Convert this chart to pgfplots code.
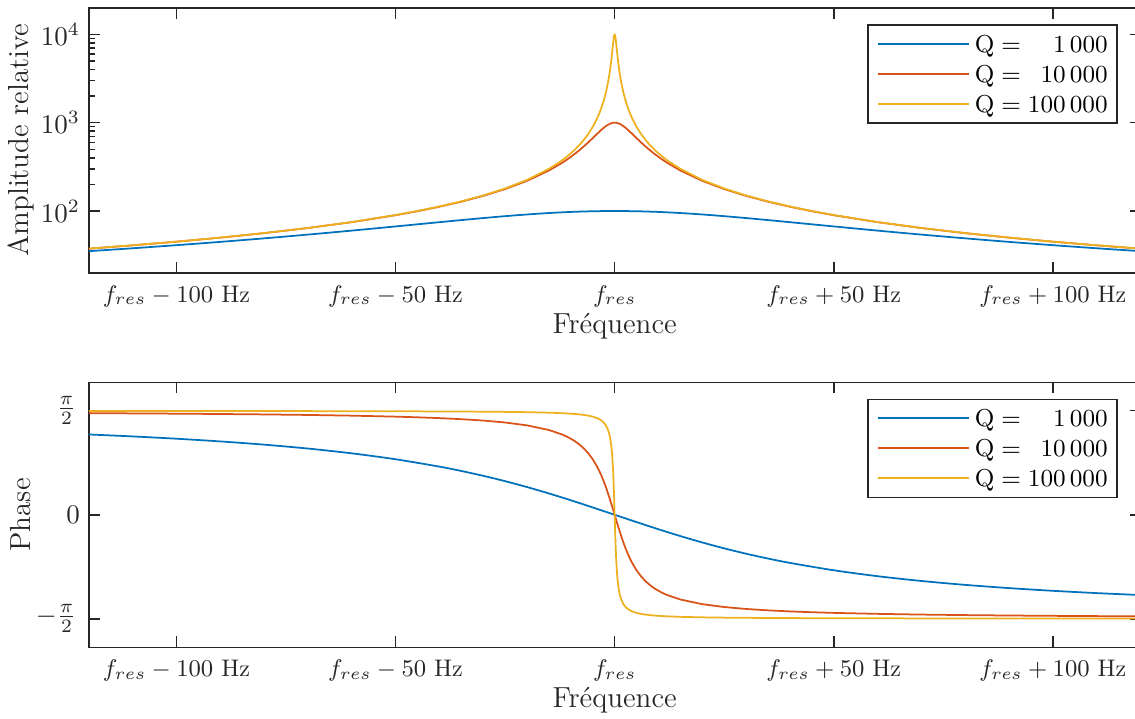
\RequirePackage{fix-cm}
\documentclass[border=0pt]{standalone}
\usepackage{pgfplots}
\usepackage{pgfplotstable}
\pgfplotsset{compat=1.18}
\definecolor{c1}{rgb}{0,0.447,0.741}
\definecolor{c2}{rgb}{0.85,0.325,0.098}
\definecolor{c3}{rgb}{0.929,0.694,0.125}
\definecolor{axgray}{rgb}{0.15,0.15,0.15}

\pgfplotstableread{
x amp ph
-120 35.11 1.2120
-110 37.86 1.1825
-100 41.04 1.1479
-90 44.72 1.1071
-80 49.03 1.0584
-70 54.08 0.9994
-60 60.00 0.9273
-50 66.90 0.8380
-40 74.74 0.7266
-35 78.94 0.6610
-30 83.21 0.5880
-25 87.42 0.5071
-20 91.38 0.4182
-15 94.87 0.3218
-10 97.62 0.2187
-5 99.39 0.1107
0 100.00 0.0000
5 99.39 -0.1107
10 97.62 -0.2187
15 94.87 -0.3218
20 91.38 -0.4182
25 87.42 -0.5071
30 83.21 -0.5880
35 78.94 -0.6610
40 74.74 -0.7266
50 66.90 -0.8380
60 60.00 -0.9273
70 54.08 -0.9994
80 49.03 -1.0584
90 44.72 -1.1071
100 41.04 -1.1479
110 37.86 -1.1825
120 35.11 -1.2120
}\qA

\pgfplotstableread{
x amp ph
-120 37.47 1.5333
-110 40.87 1.5299
-100 44.95 1.5258
-90 49.94 1.5208
-80 56.16 1.5146
-70 64.15 1.5066
-60 74.79 1.4959
-50 89.64 1.4810
-45 99.50 1.4711
-40 111.8 1.4588
-35 127.5 1.4429
-30 148.3 1.4219
-25 177.2 1.3927
-20 219.5 1.3495
-15 287.3 1.2793
-12 351.1 1.2120
-11 378.6 1.1825
-10 410.4 1.1479
-9 447.2 1.1071
-8 490.3 1.0584
-7 540.8 0.9994
-6 600.0 0.9273
-5 669.0 0.8380
-4 747.4 0.7266
-3.5 789.4 0.6610
-3 832.1 0.5880
-2.5 874.2 0.5071
-2 913.8 0.4182
-1.5 948.7 0.3218
-1 976.2 0.2187
-0.5 993.9 0.1107
0 1000 0
0.5 993.9 -0.1107
1 976.2 -0.2187
1.5 948.7 -0.3218
2 913.8 -0.4182
2.5 874.2 -0.5071
3 832.1 -0.5880
3.5 789.4 -0.6610
4 747.4 -0.7266
5 669.0 -0.8380
6 600.0 -0.9273
7 540.8 -0.9994
8 490.3 -1.0584
9 447.2 -1.1071
10 410.4 -1.1479
11 378.6 -1.1825
12 351.1 -1.2120
15 287.3 -1.2793
20 219.5 -1.3495
25 177.2 -1.3927
30 148.3 -1.4219
35 127.5 -1.4429
40 111.8 -1.4588
45 99.50 -1.4711
50 89.64 -1.4810
60 74.79 -1.4959
70 64.15 -1.5066
80 56.16 -1.5146
90 49.94 -1.5208
100 44.95 -1.5258
110 40.87 -1.5299
120 37.47 -1.5333
}\qB

\pgfplotstableread{
x amp ph
-120 37.50 1.5671
-110 40.91 1.5667
-100 45.00 1.5663
-90 50.00 1.5658
-80 56.25 1.5652
-70 64.29 1.5644
-60 75.00 1.5633
-50 90.00 1.5618
-45 100.0 1.5608
-40 112.5 1.5596
-35 128.6 1.5579
-30 150.0 1.5558
-25 180.0 1.5528
-20 224.9 1.5483
-15 299.9 1.5408
-12 374.7 1.5333
-11 408.7 1.5299
-10 449.5 1.5258
-9 499.4 1.5208
-8 561.6 1.5146
-7 641.5 1.5066
-6 747.9 1.4959
-5 896.4 1.4810
-4 1118 1.4588
-3.5 1275 1.4429
-3 1483 1.4219
-2.5 1772 1.3927
-2 2195 1.3495
-1.5 2873 1.2793
-1.2 3511 1.2120
-1.1 3786 1.1825
-1.0 4104 1.1479
-0.9 4472 1.1071
-0.8 4903 1.0584
-0.7 5408 0.9994
-0.6 6000 0.9273
-0.5 6690 0.8380
-0.4 7474 0.7266
-0.35 7894 0.6610
-0.3 8321 0.5880
-0.25 8742 0.5071
-0.2 9138 0.4182
-0.15 9487 0.3218
-0.1 9762 0.2187
-0.05 9939 0.1107
0 10000 0
0.05 9939 -0.1107
0.1 9762 -0.2187
0.15 9487 -0.3218
0.2 9138 -0.4182
0.25 8742 -0.5071
0.3 8321 -0.5880
0.35 7894 -0.6610
0.4 7474 -0.7266
0.5 6690 -0.8380
0.6 6000 -0.9273
0.7 5408 -0.9994
0.8 4903 -1.0584
0.9 4472 -1.1071
1.0 4104 -1.1479
1.1 3786 -1.1825
1.2 3511 -1.2120
1.5 2873 -1.2793
2 2195 -1.3495
2.5 1772 -1.3927
3 1483 -1.4219
3.5 1275 -1.4429
4 1118 -1.4588
5 896.4 -1.4810
6 747.9 -1.4959
7 641.5 -1.5066
8 561.6 -1.5146
9 499.4 -1.5208
10 449.5 -1.5258
11 408.7 -1.5299
12 374.7 -1.5333
15 299.9 -1.5408
20 224.9 -1.5483
25 180.0 -1.5528
30 150.0 -1.5558
35 128.6 -1.5579
40 112.5 -1.5596
45 100.0 -1.5608
50 90.00 -1.5618
60 75.00 -1.5633
70 64.29 -1.5644
80 56.25 -1.5652
90 50.00 -1.5658
100 45.00 -1.5663
110 40.91 -1.5667
120 37.50 -1.5671
}\qC

\pgfplotsset{
  myax/.style={
    scale only axis, width=420.7pt, height=106pt,
    xmin=-120, xmax=120,
    xtick={-100,-50,0,50,100},
    xticklabels={{$f_{res}-100$ Hz},{$f_{res}-50$ Hz},{$f_{res}$},{$f_{res}+50$ Hz},{$f_{res}+100$ Hz}},
    axis line style={draw=axgray, line width=0.6pt},
    every tick/.style={draw=axgray, line width=0.6pt},
    major tick length=4.4pt, minor tick length=2.4pt,
    tick align=inside,
    tick label style={font=\fontsize{9.6}{11}\selectfont, text=axgray},
    yticklabel style={font=\fontsize{10.8}{12}\selectfont},
    xticklabel style={anchor=base, yshift=-11.8pt},
    xlabel={Fréquence},
    xlabel style={at={(axis description cs:0.5,0)}, anchor=base, yshift=-24.2pt, font=\fontsize{11.6}{13}\selectfont, text=axgray},
    ylabel style={at={(axis description cs:-0.0645,0.5)}, anchor=center, rotate=0, font=\fontsize{11.6}{13}\selectfont, text=axgray},
    legend cell align=left,
    legend image code/.code={\draw[#1] (0pt,0pt) -- (36.3pt,0pt);},
    legend style={at={(1,1)}, anchor=north east, xshift=-9.1pt, yshift=-6.5pt,
      draw=axgray, line width=0.6pt, fill=white,
      font=\fontsize{9.8}{11}\selectfont,
      inner xsep=3.7pt, inner ysep=1.6pt, column sep=2.1pt, row sep=0pt,
      nodes={inner sep=0pt, text height=9.4pt, text depth=2.6pt}},
    every axis plot/.append style={line width=0.7pt, line join=round},
  }
}

\begin{document}
\begin{tikzpicture}
\begin{axis}[myax, at={(35.5pt,178.1pt)}, anchor=south west,
  ymode=log, ymin=20, ymax=20000, ytick={100,1000,10000},
  ylabel={Amplitude relative}]
\addplot[c1, smooth] table[x=x, y=amp] {\qA};
\addplot[c2] table[x=x, y=amp] {\qB};
\addplot[c3] table[x=x, y=amp] {\qC};
\legend{{$\mathrm{Q} = \phantom{00}1\,000$},{$\mathrm{Q} = \phantom{0}10\,000$},{$\mathrm{Q} = 100\,000$}}
\end{axis}
\begin{axis}[myax, at={(35.5pt,28.3pt)}, anchor=south west,
  ymin=-2, ymax=2, ytick={-1.5708,0,1.5708},
  yticklabels={{$-\frac{\pi}{2}$\kern1.5pt},{$0$},{$\frac{\pi}{2}$\kern1.5pt}},
  ylabel={Phase}]
\addplot[c1, smooth] table[x=x, y=ph] {\qA};
\addplot[c2] table[x=x, y=ph] {\qB};
\addplot[c3] table[x=x, y=ph] {\qC};
\legend{{$\mathrm{Q} = \phantom{00}1\,000$},{$\mathrm{Q} = \phantom{0}10\,000$},{$\mathrm{Q} = 100\,000$}}
\end{axis}
\pgfresetboundingbox
\useasboundingbox (0,0) rectangle (454pt,287.2pt);
\end{tikzpicture}
\end{document}
